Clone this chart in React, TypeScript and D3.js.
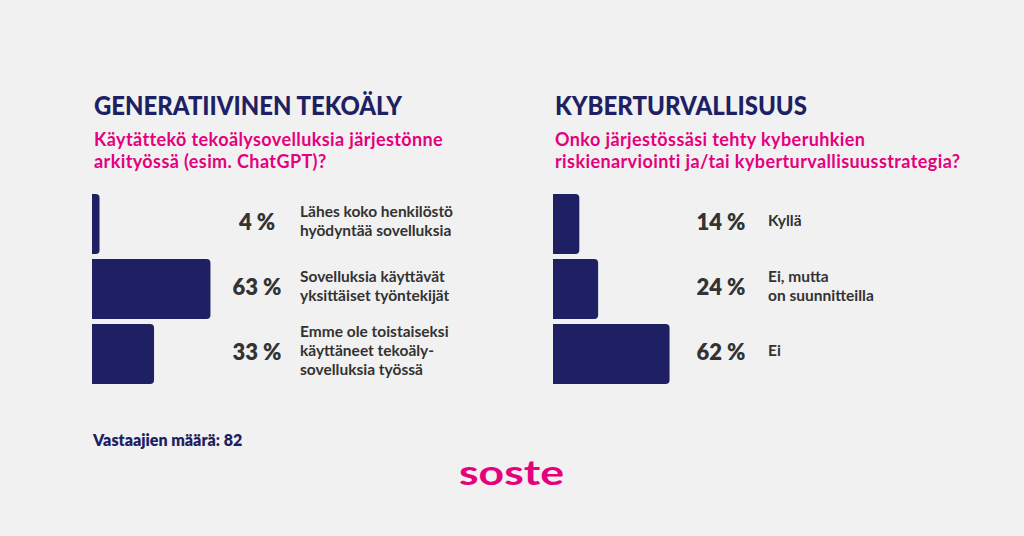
import React from 'react'
import * as d3 from 'd3'

// survey results, percent of respondents
const genCategories = ['koko', 'yksittaiset', 'emme']
const genValues = [4, 63, 33]
const genLabels = [
  ['Lähes koko henkilöstö', 'hyödyntää sovelluksia'],
  ['Sovelluksia käyttävät', 'yksittäiset työntekijät'],
  ['Emme ole toistaiseksi', 'käyttäneet tekoäly-', 'sovelluksia työssä'],
]

const cyberCategories = ['kylla', 'suunnitteilla', 'ei']
const cyberValues = [14, 24, 62]
const cyberLabels = [['Kyllä'], ['Ei, mutta', 'on suunnitteilla'], ['Ei']]

const genTitle = 'GENERATIIVINEN TEKOÄLY'
const genQuestion = ['Käytättekö tekoälysovelluksia järjestönne', 'arkityössä (esim. ChatGPT)?']
const cyberTitle = 'KYBERTURVALLISUUS'
const cyberQuestion = ['Onko järjestössäsi tehty kyberuhkien', 'riskienarviointi ja/tai kyberturvallisuusstrategia?']
const respondents = 'Vastaajien määrä: 82'

const W = 1024
const H = 536
const NAVY = '#1f1f63'
const PINK = '#e5007e'
const GREY = '#333333'
const FONT = 'Lato, "Noto Sans", sans-serif'

const x = d3.scaleLinear().domain([0, 100]).range([0, 188])

function barPath(x0: number, y0: number, w: number, h: number) {
  const r = Math.min(4, w / 2)
  const x1 = x0 + w
  const y1 = y0 + h
  return `M${x0},${y0}H${x1 - r}Q${x1},${y0} ${x1},${y0 + r}V${y1 - r}Q${x1},${y1} ${x1 - r},${y1}H${x0}Z`
}

function Panel(props: {
  left: number
  title: string
  titleWidth: number
  question: string[]
  categories: string[]
  values: number[]
  labels: string[][]
  pctX: number
  labelX: number
}) {
  const { left, title, titleWidth, question, categories, values, labels, pctX, labelX } = props
  const y = d3.scaleBand().domain(categories).range([194, 384]).paddingInner(0.077)
  return (
    <g>
      <text
        x={left + 2}
        y={115}
        fill={NAVY}
        fontFamily={FONT}
        fontWeight={900}
        fontSize={27}
        textLength={titleWidth}
        lengthAdjust="spacingAndGlyphs"
      >
        {title}
      </text>
      <text y={146} fill={PINK} fontFamily={FONT} fontWeight={700} fontSize={18} letterSpacing={0.4}>
        {question.map((q, i) => (
          <tspan key={i} x={left + 2} dy={i === 0 ? 0 : 22}>
            {q}
          </tspan>
        ))}
      </text>
      {categories.map((c, i) => {
        const by = y(c) as number
        const bh = y.bandwidth()
        const cy = by + bh / 2
        const lines = labels[i]
        const lh = 19
        return (
          <g key={c}>
            <path d={barPath(left, by, x(values[i]), bh)} fill={NAVY} />
            <text
              x={left + pctX}
              y={cy - 2}
              dy="0.35em"
              textAnchor="middle"
              fill={GREY}
              fontFamily={FONT}
              fontWeight={800}
              fontSize={22}
            >
              {values[i]} %
            </text>
            <text
              y={cy - 3 - ((lines.length - 1) / 2) * lh}
              fill={GREY}
              fontFamily={FONT}
              fontWeight={700}
              fontSize={15.5}
            >
              {lines.map((t, j) => (
                <tspan key={j} x={left + labelX} dy={j === 0 ? '0.35em' : lh}>
                  {t}
                </tspan>
              ))}
            </text>
          </g>
        )
      })}
    </g>
  )
}

export default function App() {
  return (
    <svg width={W} height={H} style={{ position: 'absolute', left: 0, top: 0 }}>
      <rect width={W} height={H} fill="#f1f1f1" />
      <Panel
        left={92}
        title={genTitle}
        titleWidth={308}
        question={genQuestion}
        categories={genCategories}
        values={genValues}
        labels={genLabels}
        pctX={165}
        labelX={208}
      />
      <Panel
        left={553}
        title={cyberTitle}
        titleWidth={252}
        question={cyberQuestion}
        categories={cyberCategories}
        values={cyberValues}
        labels={cyberLabels}
        pctX={168}
        labelX={215}
      />
      <text x={93} y={446} fill={NAVY} fontFamily={FONT} fontWeight={800} fontSize={16}>
        {respondents}
      </text>
      <text
        x={459}
        y={485}
        fill={PINK}
        fontFamily={FONT}
        fontWeight={700}
        fontSize={34}
        textLength={105}
        lengthAdjust="spacingAndGlyphs"
      >
        soste
      </text>
    </svg>
  )
}
